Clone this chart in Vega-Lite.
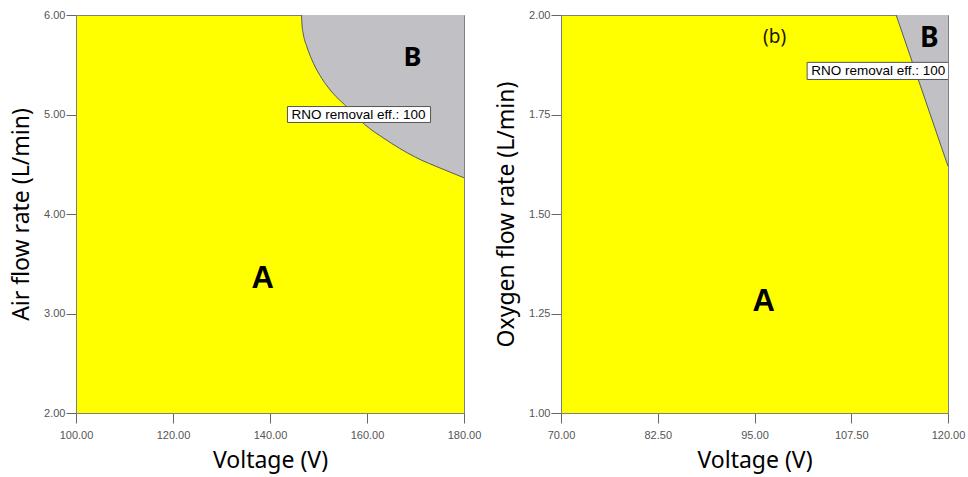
{
  "$schema": "https://vega.github.io/schema/vega-lite/v6.json",
  "padding": {"left": 10, "top": 8, "right": 5, "bottom": 5},
  "spacing": 13,
  "config": {
    "view": {"fill": "#ffff00", "stroke": "#808080", "strokeWidth": 1},
    "axis": {
      "grid": false,
      "domainColor": "#808080",
      "tickColor": "#666666",
      "tickSize": 10,
      "labelFont": "Liberation Sans",
      "labelFontSize": 11,
      "labelColor": "#555555",
      "labelFlush": false,
      "labelOverlap": false,
      "titleFont": "Noto Sans",
      "titleFontSize": 23,
      "titleFontWeight": "normal",
      "titleColor": "#000000"
    },
    "axisX": {"labelPadding": 6, "titlePadding": 9},
    "axisY": {"labelPadding": 1, "titlePadding": 10}
  },
  "datasets": {
    "leftBoundary": [
      {"v": 146.5, "f": 6.0, "top": 6.0},
      {"v": 146.6, "f": 5.9, "top": 6.0},
      {"v": 146.9, "f": 5.8, "top": 6.0},
      {"v": 147.63, "f": 5.678, "top": 6.0},
      {"v": 149.0, "f": 5.51, "top": 6.0},
      {"v": 150.72, "f": 5.36, "top": 6.0},
      {"v": 152.78, "f": 5.225, "top": 6.0},
      {"v": 156.22, "f": 5.06, "top": 6.0},
      {"v": 159.5, "f": 4.9, "top": 6.0},
      {"v": 163.5, "f": 4.76, "top": 6.0},
      {"v": 169.97, "f": 4.571, "top": 6.0},
      {"v": 175.46, "f": 4.454, "top": 6.0},
      {"v": 180.0, "f": 4.364, "top": 6.0}
    ],
    "rightBoundary": [
      {"v": 113.3, "f": 2.0, "top": 2.0},
      {"v": 120.0, "f": 1.62, "top": 2.0}
    ],
    "leftBox": [{"v": 143.6, "v2": 173.1, "f": 5.08, "f2": 4.92, "fm": 5.0, "label": "RNO removal eff.: 100"}],
    "rightBox": [{"v": 101.8, "v2": 120.5, "f": 1.881, "f2": 1.838, "fm": 1.8595, "label": "RNO removal eff.: 100"}],
    "leftA": [{"v": 138.5, "f": 3.35, "label": "A"}],
    "leftB": [{"v": 169.4, "f": 5.565, "label": "B"}],
    "rightA": [{"v": 96.2, "f": 1.28, "label": "A"}],
    "rightB": [{"v": 117.6, "f": 1.94, "label": "B"}],
    "rightTag": [{"v": 97.6, "f": 1.945, "label": "(b)"}]
  },
  "hconcat": [
    {
      "width": 388,
      "height": 398,
      "encoding": {
        "x": {"type": "quantitative", "title": "Voltage (V)", "scale": {"domain": [100, 180], "nice": false, "zero": false},
              "axis": {"values": [100, 120, 140, 160, 180], "format": ".2f"}},
        "y": {"type": "quantitative", "title": "Air flow rate (L/min)", "scale": {"domain": [2, 6], "nice": false, "zero": false},
              "axis": {"values": [2, 3, 4, 5, 6], "format": ".2f"}}
      },
      "layer": [
        {
          "data": {"name": "leftBoundary"},
          "mark": {"type": "area", "interpolate": "monotone", "color": "#c1c0c5", "opacity": 1, "fillOpacity": 1, "line": {"color": "#5a5a5a", "strokeWidth": 1}},
          "encoding": {
            "x": {"field": "v"},
            "y": {"field": "f"},
            "y2": {"field": "top"}
          }
        },
        {
          "data": {"name": "leftBox"},
          "mark": {"type": "rect", "fill": "#ffffff", "stroke": "#555555", "strokeWidth": 1, "opacity": 1},
          "encoding": {
            "x": {"field": "v"},
            "x2": {"field": "v2"},
            "y": {"field": "f"},
            "y2": {"field": "f2"}
          }
        },
        {
          "data": {"name": "leftBox"},
          "mark": {"type": "text", "font": "Liberation Sans", "fontSize": 13.5, "color": "#000000", "align": "left", "baseline": "middle", "dx": 4},
          "encoding": {
            "x": {"field": "v"},
            "y": {"field": "fm"},
            "text": {"field": "label"}
          }
        },
        {
          "data": {"name": "leftA"},
          "mark": {"type": "text", "font": "Liberation Sans", "fontWeight": "bold", "fontSize": 31, "color": "#000000", "align": "center", "baseline": "middle"},
          "encoding": {
            "x": {"field": "v"},
            "y": {"field": "f"},
            "text": {"field": "label"}
          }
        },
        {
          "data": {"name": "leftB"},
          "mark": {"type": "text", "font": "Noto Sans", "fontWeight": "bold", "fontSize": 27, "color": "#000000", "align": "center", "baseline": "middle"},
          "encoding": {
            "x": {"field": "v"},
            "y": {"field": "f"},
            "text": {"field": "label"}
          }
        }
      ]
    },
    {
      "width": 387,
      "height": 398,
      "encoding": {
        "x": {"type": "quantitative", "title": "Voltage (V)", "scale": {"domain": [70, 120], "nice": false, "zero": false},
              "axis": {"values": [70, 82.5, 95, 107.5, 120], "format": ".2f"}},
        "y": {"type": "quantitative", "title": "Oxygen flow rate (L/min)", "scale": {"domain": [1, 2], "nice": false, "zero": false},
              "axis": {"values": [1, 1.25, 1.5, 1.75, 2], "format": ".2f"}}
      },
      "layer": [
        {
          "data": {"name": "rightBoundary"},
          "mark": {"type": "area", "color": "#c1c0c5", "opacity": 1, "fillOpacity": 1, "line": {"color": "#5a5a5a", "strokeWidth": 1}},
          "encoding": {
            "x": {"field": "v"},
            "y": {"field": "f"},
            "y2": {"field": "top"}
          }
        },
        {
          "data": {"name": "rightBox"},
          "mark": {"type": "rect", "fill": "#ffffff", "stroke": "#555555", "strokeWidth": 1, "opacity": 1, "clip": true},
          "encoding": {
            "x": {"field": "v"},
            "x2": {"field": "v2"},
            "y": {"field": "f"},
            "y2": {"field": "f2"}
          }
        },
        {
          "data": {"name": "rightBox"},
          "mark": {"type": "text", "font": "Liberation Sans", "fontSize": 13.5, "color": "#000000", "align": "left", "baseline": "middle", "dx": 4, "clip": true},
          "encoding": {
            "x": {"field": "v"},
            "y": {"field": "fm"},
            "text": {"field": "label"}
          }
        },
        {
          "data": {"name": "rightA"},
          "mark": {"type": "text", "font": "Liberation Sans", "fontWeight": "bold", "fontSize": 31, "color": "#000000", "align": "center", "baseline": "middle"},
          "encoding": {
            "x": {"field": "v"},
            "y": {"field": "f"},
            "text": {"field": "label"}
          }
        },
        {
          "data": {"name": "rightB"},
          "mark": {"type": "text", "font": "Noto Sans", "fontWeight": "bold", "fontSize": 28, "color": "#000000", "align": "center", "baseline": "middle"},
          "encoding": {
            "x": {"field": "v"},
            "y": {"field": "f"},
            "text": {"field": "label"}
          }
        },
        {
          "data": {"name": "rightTag"},
          "mark": {"type": "text", "font": "Noto Sans", "fontSize": 19, "color": "#1a1a00", "align": "center", "baseline": "middle"},
          "encoding": {
            "x": {"field": "v"},
            "y": {"field": "f"},
            "text": {"field": "label"}
          }
        }
      ]
    }
  ]
}
